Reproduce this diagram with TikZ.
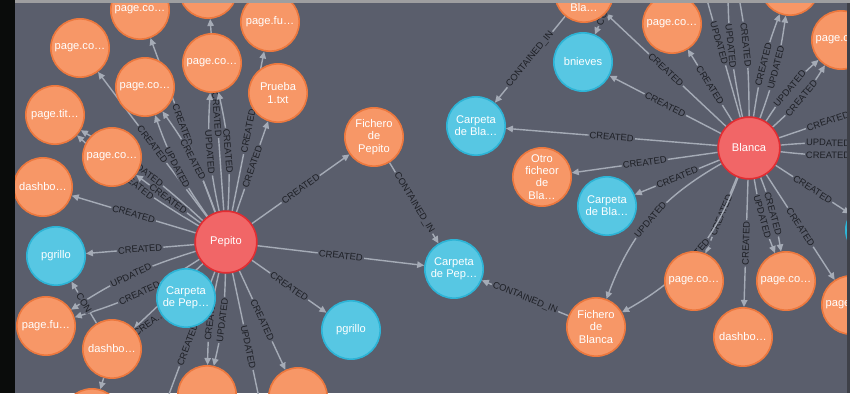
\documentclass[tikz,border=0pt]{standalone}
\usepackage{fontspec}
\setmainfont{Liberation Sans}
\usetikzlibrary{arrows.meta}
\definecolor{canvasgrey}{RGB}{90,94,108}
\definecolor{nodeorange}{RGB}{247,151,103}
\definecolor{darkorange}{RGB}{236,120,62}
\definecolor{nodeblue}{RGB}{87,199,227}
\definecolor{darkblue}{RGB}{45,180,214}
\definecolor{nodered}{RGB}{241,102,103}
\definecolor{darkred}{RGB}{226,45,50}
\definecolor{relgrey}{RGB}{165,171,182}
\definecolor{labeldark}{RGB}{30,32,38}
\definecolor{leftblack}{RGB}{10,12,11}
\definecolor{topgrey}{RGB}{158,158,160}
\definecolor{rightdark}{RGB}{62,64,72}
\pgfdeclarelayer{canvaslayer}
\pgfdeclarelayer{rellayer}
\pgfsetlayers{canvaslayer,rellayer,main}

\begin{document}
\begin{tikzpicture}[x=0.03cm, y=-0.03cm,
  basenode/.style={circle, minimum size=1.75cm, inner sep=0pt, align=center, text=white, line width=1.4pt, font=\fontsize{9.5}{10.5}\selectfont},
  orangenode/.style={basenode, fill=nodeorange, draw=darkorange},
  bluenode/.style={basenode, fill=nodeblue, draw=darkblue},
  rednode/.style={basenode, fill=nodered, draw=darkred, minimum size=1.85cm},
  offnode/.style={circle, minimum size=1.75cm, inner sep=0pt},
  rel/.style={draw=relgrey, line width=1.2pt, -{Triangle[length=6pt,width=5.5pt]}},
  rellabel/.style={midway, sloped, fill=canvasgrey, inner sep=1pt, text=labeldark, font=\fontsize{8}{8}\selectfont}]
\useasboundingbox (0,0) rectangle (850,393);
\begin{pgfonlayer}{canvaslayer}
\fill[canvasgrey] (0,0) rectangle (850,393);
\end{pgfonlayer}

% Pepito
\node (pepito) [rednode] at (226,242) {Pepito};
\node (pcA) [orangenode] at (140,10) {page.co\ldots};
\node (ptop) [orangenode] at (208,-11) {};
\node (pfu) [orangenode] at (270,22) {page.fu\ldots};
\node (pcB) [orangenode] at (80,48) {page.co\ldots};
\node (pcC) [orangenode] at (212,63) {page.co\ldots};
\node (pcD) [orangenode] at (145,87) {page.co\ldots};
\node (prueba) [orangenode] at (278,93) {Prueba\\1.txt};
\node (ptit) [orangenode] at (55,115) {page.tit\ldots};
\node (pcE) [orangenode] at (112,157) {page.co\ldots};
\node (dashA) [orangenode] at (43,187) {dashbo\ldots};
\node (pgrilloA) [bluenode] at (56,256) {pgrillo};
\node (pfuB) [orangenode] at (46,326) {page.fu\ldots};
\node (dashB) [orangenode] at (112,349) {dashbo\ldots};
\node (carpPepA) [bluenode] at (186,298) {Carpeta\\de Pep\ldots};
\node (botA) [orangenode] at (92,418) {};
\node (botB) [orangenode] at (207,395) {};
\node (botC) [orangenode] at (298,397) {};
\node (pgrilloB) [bluenode] at (351,330) {pgrillo};
\node (fichPep) [orangenode] at (374,137) {Fichero\\de\\Pepito};
\node (carpPepB) [bluenode] at (454,269) {Carpeta\\de Pep\ldots};
\node (offPa) [offnode] at (150,445) {};
\node (offPb) [offnode] at (270,450) {};

% Blanca
\node (blanca) [rednode] at (749,148) {Blanca};
\node (blaTop) [orangenode] at (584,-7) {~\\~\\de\\Bla\ldots};
\node (bnieves) [bluenode] at (583,62) {bnieves};
\node (pcF) [orangenode] at (672,24) {page.co\ldots};
\node (blTop2) [orangenode] at (790,-14) {};
\node (pcG) [orangenode] at (841,40) {page.co\ldots};
\node (carpBlaA) [bluenode] at (476,126) {Carpeta\\de Bla\ldots};
\node (otro) [orangenode] at (542,177) {Otro\\ficheor\\de\\Bla\ldots};
\node (carpBlaB) [bluenode] at (607,206) {Carpeta\\de Bla\ldots};
\node (pcH) [orangenode] at (694,281) {page.co\ldots};
\node (pcI) [orangenode] at (786,281) {page.co\ldots};
\node (pJ) [orangenode] at (851,305) {page.co\ldots};
\node (dashC) [orangenode] at (743,337) {dashbo\ldots};
\node (fichBla) [orangenode] at (596,327) {Fichero\\de\\Blanca};
\node (blueR) [bluenode] at (875,230) {};
\node (offBn) [offnode] at (625,-35) {};
\node (offT1) [offnode] at (690,-60) {};
\node (offT2) [offnode] at (728,-55) {};
\node (offR1) [offnode] at (905,95) {};
\node (offR2) [offnode] at (905,150) {};

\begin{pgfonlayer}{rellayer}
\draw[rel] (pepito) -- node[rellabel]{CREATED} (pcA);
\draw[rel] (pepito) -- node[rellabel]{CREATED} (pcB);
\draw[rel] (pepito) to[bend left=8] node[rellabel]{UPDATED} (pcD);
\draw[rel] (pepito) to[bend right=8] node[rellabel]{CREATED} (pcD);
\draw[rel] (pepito) -- node[rellabel]{CREATED} (ptop);
\draw[rel] (pepito) to[bend left=8] node[rellabel]{UPDATED} (pcC);
\draw[rel] (pepito) to[bend right=8] node[rellabel]{CREATED} (pcC);
\draw[rel] (pepito) -- node[rellabel]{CREATED} (pfu);
\draw[rel] (pepito) -- node[rellabel]{CREATED} (prueba);
\draw[rel] (pepito) -- node[rellabel]{CREATED} (fichPep);
\draw[rel] (pepito) to[bend left=6] node[rellabel]{CREATED} (ptit);
\draw[rel] (pepito) to[bend right=6] node[rellabel]{UPDATED} (ptit);
\draw[rel] (pepito) -- node[rellabel]{CREATED} (pcE);
\draw[rel] (pepito) -- node[rellabel]{CREATED} (dashA);
\draw[rel] (pepito) -- node[rellabel]{CREATED} (pgrilloA);
\draw[rel] (pepito) to[bend left=8] node[rellabel]{CREATED} (pfuB);
\draw[rel] (pepito) to[bend right=8] node[rellabel]{UPDATED} (pfuB);
\draw[rel] (pepito) -- (dashB);
\draw[rel] (carpPepA) -- node[rellabel]{CREA\ldots} (dashB);
\draw[rel] (dashB) -- node[rellabel]{CON} (pgrilloA);
\draw[rel] (dashB) -- (botA);
\draw[rel] (pepito) to[bend left=6] node[rellabel]{UPDATED} (botB);
\draw[rel] (pepito) to[bend right=6] node[rellabel]{CREATED} (botB);
\draw[rel] (pepito) -- node[rellabel]{CREATED} (offPa);
\draw[rel] (pepito) -- node[rellabel]{UPDATED} (offPb);
\draw[rel] (pepito) -- node[rellabel]{CREATED} (botC);
\draw[rel] (pepito) -- node[rellabel]{CREATED} (pgrilloB);
\draw[rel] (pepito) -- node[rellabel]{CREATED} (carpPepB);
\draw[rel] (fichPep) -- node[rellabel]{CONTAINED\_IN} (carpPepB);
\draw[rel] (fichBla) -- node[rellabel]{CONTAINED\_IN} (carpPepB);

\draw[rel] (blanca) -- node[rellabel]{CREATED} (blaTop);
\draw[rel] (blaTop) -- node[rellabel]{CONTAINED\_IN} (carpBlaA);
\draw[rel] (offBn) -- node[rellabel, pos=0.62]{CO} (bnieves);
\draw[rel] (blanca) -- node[rellabel]{CREATED} (bnieves);
\draw[rel] (blanca) -- node[rellabel]{CREATED} (carpBlaA);
\draw[rel] (blanca) -- node[rellabel]{CREATED} (otro);
\draw[rel] (blanca) -- node[rellabel]{CREATED} (carpBlaB);
\draw[rel] (blanca) -- node[rellabel]{CREATED} (pcF);
\draw[rel] (blanca) -- node[rellabel]{UPDATED} (offT1);
\draw[rel] (blanca) to[bend left=6] node[rellabel]{UPDATED} (offT2);
\draw[rel] (blanca) to[bend right=6] node[rellabel]{CREATED} (offT2);
\draw[rel] (blanca) to[bend left=6] node[rellabel]{CREATED} (blTop2);
\draw[rel] (blanca) to[bend right=6] node[rellabel]{UPDATED} (blTop2);
\draw[rel] (blanca) to[bend left=8] node[rellabel]{UPDATED} (pcG);
\draw[rel] (blanca) to[bend right=8] node[rellabel]{CREATED} (pcG);
\draw[rel] (blanca) -- node[rellabel]{CREATED} (offR1);
\draw[rel] (blanca) to[bend left=6] node[rellabel]{UPDATED} (offR2);
\draw[rel] (blanca) to[bend right=6] node[rellabel]{CREATED} (offR2);
\draw[rel] (blanca) -- node[rellabel]{CREATED} (blueR);
\draw[rel] (blanca) -- node[rellabel]{CREATED} (pJ);
\draw[rel] (blanca) to[bend left=6] node[rellabel]{CREATED} (pcI);
\draw[rel] (blanca) to[bend right=6] node[rellabel]{UPDATED} (pcI);
\draw[rel] (blanca) -- node[rellabel]{CREATED} (dashC);
\draw[rel] (blanca) -- node[rellabel]{CREATED} (pcH);
\draw[rel] (blanca) to[bend left=20] node[rellabel]{CREATED} (fichBla);
\draw[rel] (blanca) to[bend right=20] node[rellabel]{UPDATED} (fichBla);
\end{pgfonlayer}

\fill[leftblack] (0,0) rectangle (15,393);
\fill[topgrey] (15,0) rectangle (850,3);
\fill[rightdark] (847,3) rectangle (850,393);
\end{tikzpicture}
\end{document}
